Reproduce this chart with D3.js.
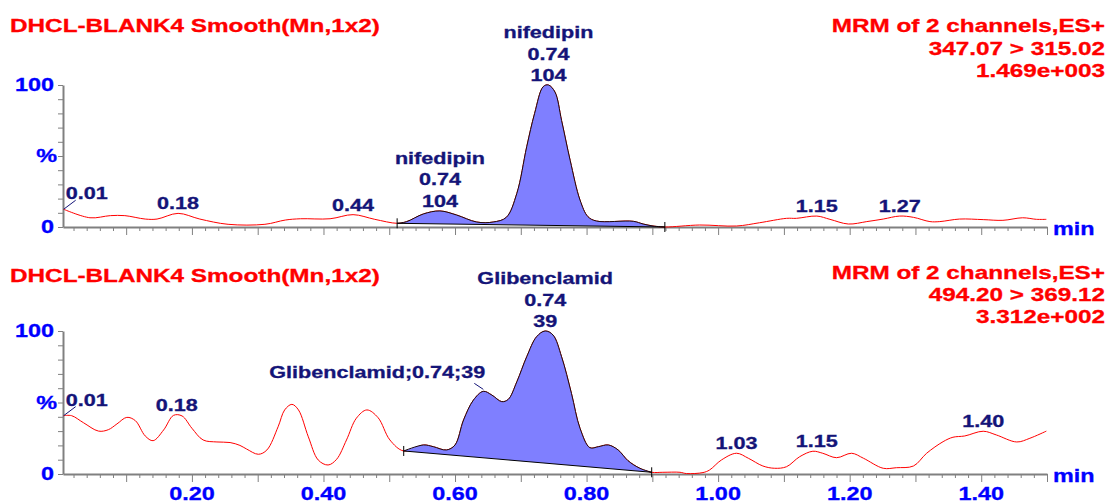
<!DOCTYPE html>
<meta charset="utf-8">
<script src="https://d3js.org/d3.v7.min.js"></script>
<style>
  body { margin: 0; background: #fff; }
</style>
<div id="chart"></div>
<script>
// ---- data (percent of channel max) ----
const topTimes = [0.005, 0.045, 0.076, 0.098, 0.129, 0.147, 0.179, 0.212, 0.255, 0.311, 0.342, 0.365, 0.410, 0.445, 0.478,
  0.512, 0.526, 0.552, 0.577, 0.602, 0.633, 0.658, 0.678, 0.694, 0.709, 0.721, 0.734, 0.742, 0.752, 0.762, 0.775, 0.790,
  0.802, 0.815, 0.871, 0.886, 0.901, 0.919, 0.972, 1.028, 1.063, 1.104, 1.119, 1.150, 1.170, 1.198, 1.226, 1.251, 1.276,
  1.297, 1.322, 1.337, 1.367, 1.403, 1.433, 1.463, 1.484, 1.499];
const topValues = [12.5, 6.5, 8, 8, 5.6, 5.6, 9.6, 5.6, 1.9, 1.9, 4.9, 5.8, 5.8, 8.7, 5.4,
  2.6, 3.7, 9.2, 11.3, 8.5, 3.5, 3.5, 6.8, 23.7, 56.5, 80, 98.8, 100, 95, 75, 47, 19,
  7.3, 4.2, 4, 2.1, 0.7, 0, 1.4, 0.7, 3, 6.1, 6.1, 7.7, 5.4, 2.1, 3.8, 5.6, 7.7,
  6.8, 3.8, 3.8, 5.6, 5.2, 4.7, 6.5, 5.4, 5.4];

const botTimes = [0.005, 0.017, 0.035, 0.058, 0.073, 0.086, 0.101, 0.114, 0.129, 0.141, 0.157, 0.172, 0.185, 0.200, 0.217,
  0.238, 0.258, 0.273, 0.283, 0.301, 0.314, 0.331, 0.341, 0.352, 0.362, 0.377, 0.392, 0.407, 0.420, 0.435, 0.450, 0.466,
  0.483, 0.501, 0.522, 0.552, 0.567, 0.587, 0.600, 0.613, 0.628, 0.643, 0.656, 0.671, 0.681, 0.694, 0.709, 0.724, 0.737,
  0.749, 0.762, 0.777, 0.790, 0.805, 0.818, 0.833, 0.848, 0.863, 0.881, 0.899, 0.916, 0.942, 0.952, 0.977, 0.987, 1.005,
  1.028, 1.046, 1.068, 1.086, 1.104, 1.124, 1.144, 1.159, 1.180, 1.203, 1.221, 1.251, 1.271, 1.297, 1.317, 1.342, 1.357,
  1.375, 1.403, 1.423, 1.454, 1.474, 1.499];
const botValues = [40.8, 40.8, 35.9, 30, 31, 35, 39.6, 37.3, 26.6, 23.3, 30.8, 41, 40.6, 32, 23.8,
  22.4, 22, 20, 17.5, 13.8, 16.8, 33, 44.8, 48.7, 44.8, 26, 9.8, 6.3, 10.3, 23.8, 39, 44.8,
  39.4, 23.8, 16.1, 20.3, 19.1, 16.8, 20.3, 37.8, 51.7, 57.8, 55.2, 50.6, 52.2, 64.5, 82, 96, 100,
  97.2, 82, 56.4, 32, 18.4, 19.1, 20.3, 16.8, 9.3, 4, 1.2, 1.2, 1.2, 0.3, 1, 2.8, 9.8,
  14.5, 11, 5.6, 4, 5.1, 12.1, 15.9, 14.5, 11.4, 14.5, 11, 4, 4.4, 5.6, 14.5, 22.6, 25.7,
  26.6, 29.9, 27.3, 22.4, 25, 30];

// integration limits [start, end]
const topPeak = [0.512, 0.919];
const botPeak = [0.522, 0.899];

// peak labels: retention time of the apex and the text lines
const topLabels = [
  { t: 0.179, lines: ["0.18"] },
  { t: 0.445, lines: ["0.44"] },
  { t: 0.577, lines: ["nifedipin", "0.74", "104"] },
  { t: 0.742, lines: ["nifedipin", "0.74", "104"] },
  { t: 1.150, lines: ["1.15"] },
  { t: 1.276, lines: ["1.27"] }
];
const botLabels = [
  { t: 0.177, lines: ["0.18"] },
  { t: 0.737, lines: ["Glibenclamid", "0.74", "39"] },
  { t: 1.028, lines: ["1.03"] },
  { t: 1.150, lines: ["1.15"] },
  { t: 1.403, lines: ["1.40"] }
];
const botSideLabel = { t: 0.643, text: "Glibenclamid;0.74;39" };

const titles = ["DHCL-BLANK4 Smooth(Mn,1x2)", "DHCL-BLANK4 Smooth(Mn,1x2)"];
const topInfo = ["MRM of 2 channels,ES+", "347.07 > 315.02", "1.469e+003"];
const botInfo = ["MRM of 2 channels,ES+", "494.20 > 369.12", "3.312e+002"];
const yTickLabels = [0, 100];
const xTickLabels = [0.2, 0.4, 0.6, 0.8, 1.0, 1.2, 1.4];

// ---- layout ----
const W = 1109, H = 503;
const SX = 1.35; // the original text is drawn wide
const RED = "#ff0000", BLUE = "#0000ff", NAVY = "#141478", FILL = "#7f7fff", GREY = "#808080";
const FONT = "'Liberation Sans', Arial, sans-serif";

const svg = d3.select("#chart").append("svg")
  .attr("width", W).attr("height", H);

const x = d3.scaleLinear().domain([0.004, 1.5]).range([63, 1047]);

function txt(g, px, py, str, anchor, fill, size, sx = SX) {
  return g.append("text")
    .attr("transform", `translate(${px},${py}) scale(${sx},1)`)
    .attr("text-anchor", anchor)
    .attr("fill", fill)
    .attr("stroke", fill).attr("stroke-width", 0.3)
    .style("font", `bold ${size}px ${FONT}`)
    .text(str);
}

function panel(cfg) {
  const g = svg.append("g");
  const y = d3.scaleLinear().domain([0, 100]).range(cfg.yRange);
  const pts = cfg.times.map((t, i) => [t, cfg.values[i]]);

  // headers
  txt(g, 10, cfg.titleY, cfg.title, "start", RED, 18);
  cfg.info.forEach((s, i) => txt(g, 1105, cfg.infoY[i], s, "end", RED, 18));

  // y axis
  const ya = g.append("g").attr("transform", `translate(${x.range()[0]},0)`)
    .call(d3.axisLeft(y).tickValues(d3.range(0, 101, 10)).tickSize(5).tickSizeOuter(0).tickFormat(""));
  ya.select(".domain").attr("stroke", GREY).attr("stroke-width", 2);
  ya.selectAll(".tick line").attr("stroke", GREY);
  yTickLabels.forEach(v => txt(g, 54, y(v) + 6, v, "end", BLUE, 18, 1.3));
  txt(g, 57, y(50) + 6, "%", "end", BLUE, 18, 1.3);

  // x axis
  const xticks = d3.range(1, 76).map(i => Math.round(i * 2) / 100);
  const xa = g.append("g").attr("transform", `translate(0,${cfg.yRange[0]})`)
    .call(d3.axisBottom(x).tickValues(xticks).tickSize(4).tickSizeOuter(0).tickFormat(""));
  xa.select(".domain").attr("stroke", GREY).attr("stroke-width", 2);
  xa.selectAll(".tick line").attr("stroke", GREY)
    .attr("y2", d => (Math.round(d * 100) % 10 === 0 ? 8 : 4));
  if (cfg.tickLabels) {
    xTickLabels.forEach(v => txt(g, x(v), cfg.yRange[0] + 26, v.toFixed(2), "middle", BLUE, 18, 1.3));
  }
  txt(g, 1053, cfg.yRange[0] + 8, "min", "start", BLUE, 18, 1.3);

  // trace
  const line = d3.line().x(d => x(d[0])).y(d => y(d[1])).curve(d3.curveCatmullRom.alpha(0.5));
  g.append("path").datum(pts).attr("d", line)
    .attr("fill", "none").attr("stroke", RED).attr("stroke-width", 1);

  // integrated peak
  const [s, e] = cfg.peak;
  const seg = pts.filter(d => d[0] >= s - 1e-9 && d[0] <= e + 1e-9);
  g.append("path").attr("d", line(seg) + "Z")
    .attr("fill", FILL).attr("stroke", "none");
  g.append("path").attr("d", line(seg))
    .attr("fill", "none").attr("stroke", "#1a0a0a").attr("stroke-width", 1);
  const a = seg[0], b = seg[seg.length - 1];
  g.append("line")
    .attr("x1", x(a[0])).attr("y1", y(a[1])).attr("x2", x(b[0])).attr("y2", y(b[1]))
    .attr("stroke", "#000").attr("stroke-width", 1);
  [a, b].forEach(d => g.append("line")
    .attr("x1", x(d[0])).attr("x2", x(d[0]))
    .attr("y1", y(d[1]) - 5).attr("y2", y(d[1]) + 5)
    .attr("stroke", "#000").attr("stroke-width", 1));

  // first-point label with leader
  const p0 = pts[0];
  g.append("line")
    .attr("x1", x(p0[0])).attr("y1", y(p0[1]))
    .attr("x2", x(p0[0]) + 12).attr("y2", y(p0[1]) - 9)
    .attr("stroke", NAVY).attr("stroke-width", 1);
  txt(g, x(p0[0]) + 2, y(p0[1]) - 10, "0.01", "start", NAVY, 16);

  // apex labels
  const valAt = t => pts.reduce((m, d) => (Math.abs(d[0] - t) < Math.abs(m[0] - t) ? d : m))[1];
  cfg.labels.forEach(l => {
    const base = y(valAt(l.t)) - 4;
    const n = l.lines.length;
    l.lines.forEach((s2, i) => txt(g, x(l.t), base - (n - 1 - i) * 21.5, s2, "middle", NAVY, 16));
  });

  if (cfg.side) {
    const sx = x(cfg.side.t), sy = y(valAt(cfg.side.t));
    g.append("line")
      .attr("x1", sx - 9).attr("y1", sy - 8).attr("x2", sx).attr("y2", sy - 2)
      .attr("stroke", NAVY).attr("stroke-width", 1);
    txt(g, sx + 2, sy - 13, cfg.side.text, "end", NAVY, 16);
  }
}

panel({
  times: topTimes, values: topValues, yRange: [227, 85], peak: topPeak,
  title: titles[0], titleY: 32, info: topInfo, infoY: [32, 55, 77],
  labels: topLabels, tickLabels: false
});
panel({
  times: botTimes, values: botValues, yRange: [474, 331], peak: botPeak,
  title: titles[1], titleY: 282, info: botInfo, infoY: [279, 301, 323],
  labels: botLabels, tickLabels: true, side: botSideLabel
});
</script>
